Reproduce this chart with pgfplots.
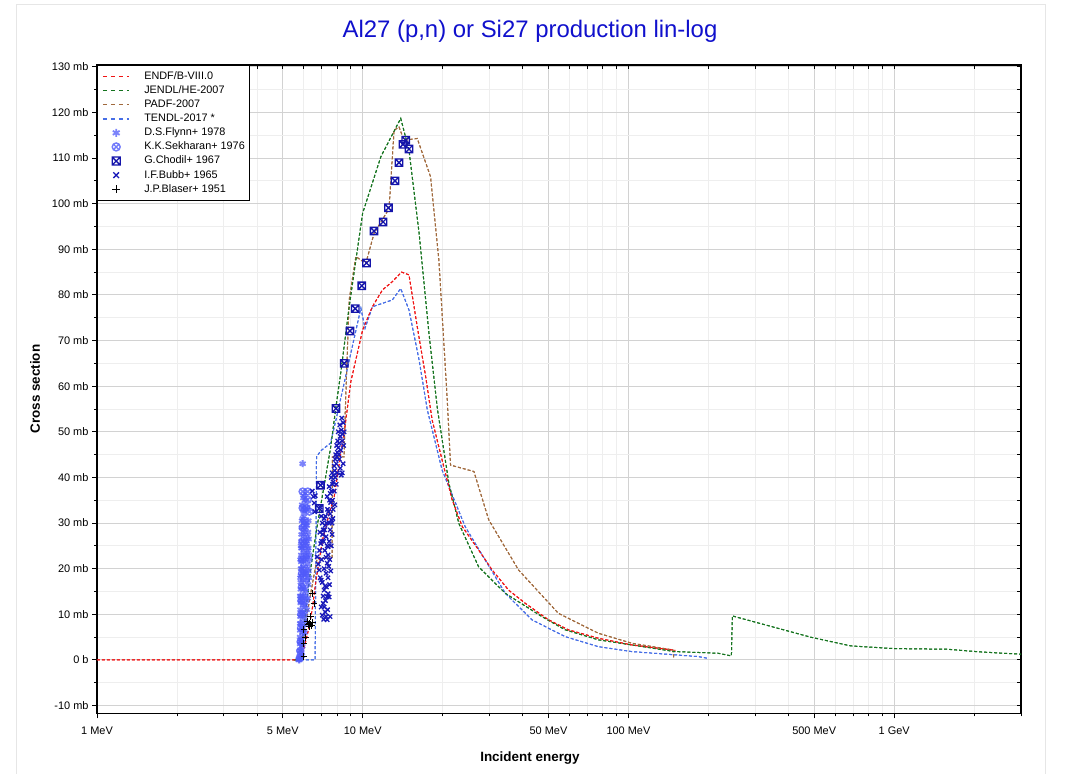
\documentclass[border=0pt]{standalone}
\usepackage{fontspec}
\setmainfont{Liberation Sans}
\usepackage{pgfplots}
\pgfplotsset{compat=1.18}
\usepackage{pgfplotstable}

\definecolor{cENDF}{RGB}{240,20,20}
\definecolor{cJENDL}{RGB}{20,115,30}
\definecolor{cPADF}{RGB}{160,105,60}
\definecolor{cTENDL}{RGB}{70,110,230}
\definecolor{cFlynn}{RGB}{80,90,250}
\definecolor{cChodil}{RGB}{20,20,170}
\definecolor{cBubb}{RGB}{25,25,185}
\definecolor{cTitle}{RGB}{16,16,204}
\definecolor{cMajGrid}{RGB}{210,210,210}
\definecolor{cMinGrid}{RGB}{238,238,238}
\definecolor{cFrame}{RGB}{230,230,230}

\pgfdeclareplotmark{boxx}{%
  \pgfpathrectangle{\pgfqpoint{-\pgfplotmarksize}{-\pgfplotmarksize}}{\pgfqpoint{2\pgfplotmarksize}{2\pgfplotmarksize}}%
  \pgfpathmoveto{\pgfqpoint{-\pgfplotmarksize}{-\pgfplotmarksize}}%
  \pgfpathlineto{\pgfqpoint{\pgfplotmarksize}{\pgfplotmarksize}}%
  \pgfpathmoveto{\pgfqpoint{-\pgfplotmarksize}{\pgfplotmarksize}}%
  \pgfpathlineto{\pgfqpoint{\pgfplotmarksize}{-\pgfplotmarksize}}%
  \pgfusepathqstroke}
\pgfdeclareplotmark{otimes}{%
  \pgfpathcircle{\pgfpointorigin}{\pgfplotmarksize}%
  \pgfpathmoveto{\pgfqpoint{-0.7071\pgfplotmarksize}{-0.7071\pgfplotmarksize}}%
  \pgfpathlineto{\pgfqpoint{0.7071\pgfplotmarksize}{0.7071\pgfplotmarksize}}%
  \pgfpathmoveto{\pgfqpoint{-0.7071\pgfplotmarksize}{0.7071\pgfplotmarksize}}%
  \pgfpathlineto{\pgfqpoint{0.7071\pgfplotmarksize}{-0.7071\pgfplotmarksize}}%
  \pgfusepathqstroke}

\pgfplotstableread{
x y
1 0
5.80 0
5.95 1.5
6.29 7.3
6.48 11.7
6.67 17.5
6.86 21.9
7.06 26.3
7.27 29.2
7.48 32.1
7.81 35.8
8.16 43.1
8.51 49.7
9.02 61.0
9.99 72.3
10.87 77.4
11.86 81.1
12.92 82.9
14.0 85.0
14.93 84.4
16.04 73.0
17.25 62.1
18.25 52.6
19.9 43.8
21.7 35.1
23.7 29.2
27.3 24.1
30.7 19.7
35.4 15.3
40.9 12.4
50.0 8.8
59.4 6.6
77.1 4.75
102.8 3.29
150 2.1
}\endf

\pgfplotstableread{
x y
5.5 0
5.82 0
5.93 4.4
6.37 20.0
6.70 28.5
7.10 37.0
7.57 46.5
7.93 55.5
8.27 63.0
8.89 77.4
9.99 97.9
11.7 110.3
13.9 118.7
14.93 111.7
16.3 93.5
17.75 71.6
19.1 55.0
21.1 38.7
23.0 29.9
27.3 20.4
34.4 14.6
47.2 9.5
57.8 6.6
77.1 4.4
102.8 3.29
149 1.83
217 1.47
244 0.88
246 9.64
486 4.97
687 3.07
1000 2.48
1585 2.34
2113 1.75
3000 1.25
}\jendl

\pgfplotstableread{
x y
5.5 0
5.82 0
6.0 5.0
6.3 13.0
6.6 19.5
6.74 22.3
7.67 22.3
7.69 44.5
8.51 44.5
8.60 55.0
8.89 78.9
9.42 88.4
10.27 86.9
11.03 93.5
12.56 98.9
13.12 116.1
13.7 116.8
14.3 113.9
16.04 114.3
18.0 105.9
19.35 87.6
20.8 57.0
21.4 42.7
26.2 41.3
29.8 30.7
38.6 19.7
54.5 10.2
77.1 5.84
103 3.65
147 2.19
148 0.5
}\padf

\pgfplotstableread{
x y
5.6 0
6.62 0
6.70 44.5
6.94 45.8
7.56 47.5
7.93 52.6
9.84 77.1
10.2 72.7
10.87 77.4
12.92 78.9
13.9 81.4
14.93 76.7
16.3 65.7
17.5 54.8
19.9 41.6
24.3 29.2
28.9 21.9
34.4 14.6
43.3 8.8
57.8 5.1
77.1 2.9
102.8 1.83
183 0.73
198 0.37
}\tendl

\pgfplotstableread{
x y
5.74 0.0
5.78 0.0
5.79 0.3
5.80 0.8
5.80 2.0
5.81 3.5
5.81 5.0
5.82 6.5
5.82 8.0
5.83 9.5
5.83 11.0
5.84 12.5
5.84 14.0
5.85 15.5
5.85 17.0
5.86 18.5
5.86 20.0
5.87 21.5
5.87 23.0
5.88 24.5
5.88 26.0
5.89 27.5
5.90 29.0
5.91 30.5
5.88 10.0
5.90 13.0
5.92 16.0
5.94 19.0
5.96 22.0
5.98 25.0
6.00 27.5
6.02 30.0
5.91 7.0
5.93 10.5
5.95 14.0
5.97 17.5
5.99 20.5
6.01 23.5
6.03 26.0
6.05 28.5
6.08 22.0
6.10 25.5
6.12 19.0
6.15 23.0
6.18 27.0
6.20 21.0
6.24 24.5
6.27 18.0
6.29 22.0
6.22 16.5
6.16 17.5
6.10 15.0
6.07 12.0
6.02 9.0
5.96 6.0
5.94 43.0
5.86 25.0
5.84 22.0
5.83 18.0
5.82 14.0
5.95 31.0
5.97 33.0
6.00 32.0
5.92 24.5
5.90 20.0
5.87 13.0
5.85 8.0
5.83 4.0
5.99 12.0
6.04 15.5
6.06 19.0
6.13 13.0
5.86 2.0
5.88 4.5
5.90 1.0
5.92 3.0
6.05 10.0
6.08 14.0
6.10 18.5
6.12 22.5
6.14 26.0
6.16 29.5
6.18 20.0
6.20 24.0
6.22 28.0
6.24 30.5
6.26 26.5
6.28 23.0
6.20 13.5
6.15 11.0
6.10 8.0
6.03 6.0
6.25 19.5
6.19 33.5
6.09 35.0
6.02 36.0
5.98 35.5
5.92 34.0
6.06 33.0
6.11 29.5
6.17 25.0
}\flynn

\pgfplotstableread{
x y
5.80 0.5
5.82 2.0
5.84 4.0
5.86 7.0
5.87 10.0
5.88 13.0
5.90 16.0
5.91 19.0
5.92 22.0
5.94 26.0
5.95 29.0
5.94 33.3
5.94 36.9
6.21 36.9
6.21 35.1
6.13 33.3
6.30 32.5
6.05 30.5
}\sekharan

\pgfplotstableread{
x y
6.86 33.2
6.94 38.3
7.93 55.1
8.52 65.0
8.95 72.1
9.37 77.0
9.92 82.0
10.33 87.0
11.03 94.0
11.93 96.0
12.49 99.1
13.23 105.0
13.69 109.0
14.17 113.0
14.51 113.9
14.93 112.0
}\chodil

\pgfplotstableread{
x y
6.46 37.0
6.52 35.8
6.57 34.4
6.63 36.0
6.60 32.5
7.04 38.7
6.92 33.5
6.98 31.5
7.04 30.0
7.10 28.5
7.16 31.0
7.22 29.5
7.28 27.0
7.35 25.0
7.41 23.0
7.28 22.5
7.35 21.2
6.74 22.6
6.80 21.0
6.86 19.7
6.92 18.0
6.98 17.5
7.04 17.0
7.16 15.3
7.22 16.2
7.35 13.8
7.41 14.5
7.48 13.8
7.10 12.4
7.16 11.6
7.22 10.5
7.28 9.5
7.35 8.8
7.54 9.5
6.98 11.6
7.04 9.8
7.35 35.8
7.48 38.0
7.54 36.5
7.61 40.0
7.67 41.0
7.74 39.0
7.81 42.5
7.88 44.0
7.95 43.0
8.02 45.5
8.09 46.5
8.16 47.5
8.23 49.0
8.30 50.4
8.37 48.0
8.44 52.0
8.51 50.0
8.02 41.0
8.37 41.0
8.30 40.5
8.16 44.0
7.74 33.0
7.61 30.7
7.54 28.5
7.48 26.0
7.61 25.0
7.67 27.5
7.41 24.8
7.95 38.5
8.44 43.0
8.23 42.0
7.81 37.0
7.88 40.0
7.54 32.0
7.48 30.0
7.16 20.0
7.28 19.0
7.10 14.0
7.98 47.0
8.09 50.0
8.20 51.5
7.70 35.0
7.85 34.0
7.40 18.0
7.50 16.5
7.20 24.0
7.00 26.0
6.90 28.0
6.88 24.0
6.95 25.5
7.00 22.0
7.06 27.5
7.12 26.0
7.18 28.5
7.24 31.5
7.30 30.0
7.37 33.0
7.43 32.5
7.50 35.0
7.57 34.5
7.63 37.0
7.70 38.5
7.77 40.5
7.84 41.5
7.91 45.0
7.98 44.5
8.05 48.0
8.12 45.0
8.27 46.0
8.34 53.0
8.40 49.5
8.48 47.0
7.45 20.5
7.52 22.0
7.58 19.5
7.30 16.0
7.24 13.0
7.13 8.9
7.38 11.0
7.66 30.0
7.72 31.0
}\bubb

\pgfplotstableread{
x y
6.46 14.6
6.56 12.4
6.37 9.5
6.18 8.4
6.25 7.8
6.32 8.0
6.40 7.5
6.45 8.2
6.30 7.3
6.01 3.6
6.01 6.6
6.01 0.7
6.10 5.0
}\blaser

\pgfplotsset{
  curve/.style={no marks, line width=1bp, dash pattern=on 3bp off 2bp,
    legend image code/.code={\draw[##1, line width=1.6bp, dash pattern=on 4.5bp off 3.5bp] (0bp,0bp) -- (26.6bp,0bp);}},
  dots/.style={only marks,
    legend image code/.code={\draw[mark repeat=2, mark phase=2, ##1, mark size=4bp] plot coordinates {(0bp,0bp) (13.3bp,0bp) (26.6bp,0bp)};}},
}

\begin{document}
\begin{tikzpicture}
\useasboundingbox (-97bp,-60.7bp) rectangle (972bp,713.3bp);
\draw[cFrame, line width=1bp] (-80bp,-90bp) rectangle (948bp,708.3bp);
\begin{axis}[
  at={(0,0)}, anchor=south west,
  scale only axis, width=924bp, height=648.3bp,
  xmode=log, xmin=1, xmax=3000, ymin=-11.7, ymax=130.4,
  xtick={1,5,10,50,100,500,1000},
  minor xtick={2,3,4,6,7,8,9,20,30,40,60,70,80,90,200,300,400,600,700,800,900,2000,3000},
  ytick={-10,0,10,20,30,40,50,60,70,80,90,100,110,120,130},
  minor ytick={-5,5,15,25,35,45,55,65,75,85,95,105,115,125},
  tick style={black, line width=0.9bp},
  axis line style={line width=1.3bp, black},
  xticklabels={1 MeV,5 MeV,10 MeV,50 MeV,100 MeV,500 MeV,1 GeV},
  yticklabels={-10 mb,0 b,10 mb,20 mb,30 mb,40 mb,50 mb,60 mb,70 mb,80 mb,90 mb,100 mb,110 mb,120 mb,130 mb},
  grid=both,
  major grid style={draw=cMajGrid, line width=1bp},
  minor grid style={draw=cMinGrid, line width=0.8bp},
  tick align=outside, xtick pos=left, ytick pos=left,
  major tick length=5bp, minor tick length=3bp,
  ticklabel style={font=\fontsize{11}{13}\selectfont},
  xticklabel style={yshift=-5bp},
  title={Al27 (p,n) or Si27 production lin-log},
  title style={at={(axis description cs:0.4686,1)}, anchor=base, yshift=21.7bp,
    font=\fontsize{24}{28}\selectfont, text=cTitle},
  xlabel={Incident energy},
  ylabel={Cross section},
  every axis x label/.style={at={(axis description cs:0.4686,0)}, anchor=center, yshift=-44.7bp,
    font=\fontsize{13.5}{16}\selectfont\bfseries},
  every axis y label/.style={at={(axis description cs:-0.0671,0.5)}, rotate=90, anchor=center,
    font=\fontsize{13.5}{16}\selectfont\bfseries},
  legend style={at={(0,1)}, anchor=north west, draw=black, line width=0.8bp, fill=white,
    inner xsep=4.7bp, inner ysep=4bp, font=\fontsize{10.9}{12}\selectfont,
    cells={anchor=west}, row sep=0pt, column sep=14bp,
    nodes={inner xsep=0pt, inner ysep=1.95bp, text height=8bp, text depth=2.2bp}},
  legend cell align=left,
]
\addplot[curve, cENDF] table {\endf};
\addlegendentry{ENDF/B-VIII.0}
\addplot[curve, cJENDL] table {\jendl};
\addlegendentry{JENDL/HE-2007}
\addplot[curve, cPADF] table {\padf};
\addlegendentry{PADF-2007}
\addplot[curve, cTENDL] table {\tendl};
\addlegendentry{TENDL-2017 *}
\addplot[dots, mark=asterisk, mark size=3.5bp, mark options={draw=cFlynn, line width=1.8bp, draw opacity=0.75}] table {\flynn};
\addlegendentry{D.S.Flynn+ 1978}
\addplot[dots, mark=otimes, mark size=3.5bp, mark options={draw=cFlynn, fill=cFlynn, line width=1.4bp, draw opacity=0.8}] table {\sekharan};
\addlegendentry{K.K.Sekharan+ 1976}
\addplot[dots, mark=boxx, mark size=3.7bp, mark options={draw=cChodil, line width=1.3bp}] table {\chodil};
\addlegendentry{G.Chodil+ 1967}
\addplot[dots, mark=x, mark size=3bp, mark options={draw=cBubb, line width=1.3bp}] table {\bubb};
\addlegendentry{I.F.Bubb+ 1965}
\addplot[dots, mark=+, mark size=3.4bp, mark options={draw=black, line width=1bp}] table {\blaser};
\addlegendentry{J.P.Blaser+ 1951}
\addplot[curve, cTENDL, forget plot] table {\tendl};
\addplot[curve, cPADF, forget plot] table {\padf};
\addplot[curve, cJENDL, forget plot] table {\jendl};
\addplot[curve, cENDF, forget plot] table {\endf};
\end{axis}
\begin{axis}[
  at={(0,0)}, anchor=south west,
  scale only axis, width=924bp, height=648.3bp,
  xmode=log, xmin=1, xmax=3000, ymin=-11.7, ymax=130.4,
  xtick={5,10,50,100,500,1000},
  minor xtick={4,6,7,8,9,20,30,40,60,70,80,90,200,300,400,600,700,800,900,2000},
  ytick={-10,0,10,20,30,40,50,60,70,80,90,100,110,120,130},
  minor ytick={-5,5,15,25,35,45,55,65,75,85,95,105,115,125},
  tick style={black, line width=0.9bp},
  axis line style={draw=none},
  xticklabels={}, yticklabels={},
  tick align=inside, xtick pos=right, ytick pos=right,
  major tick length=4bp, minor tick length=4bp,
]
\addplot[draw=none, forget plot] coordinates {(1,0) (3000,0)};
\end{axis}
\end{tikzpicture}
\end{document}
